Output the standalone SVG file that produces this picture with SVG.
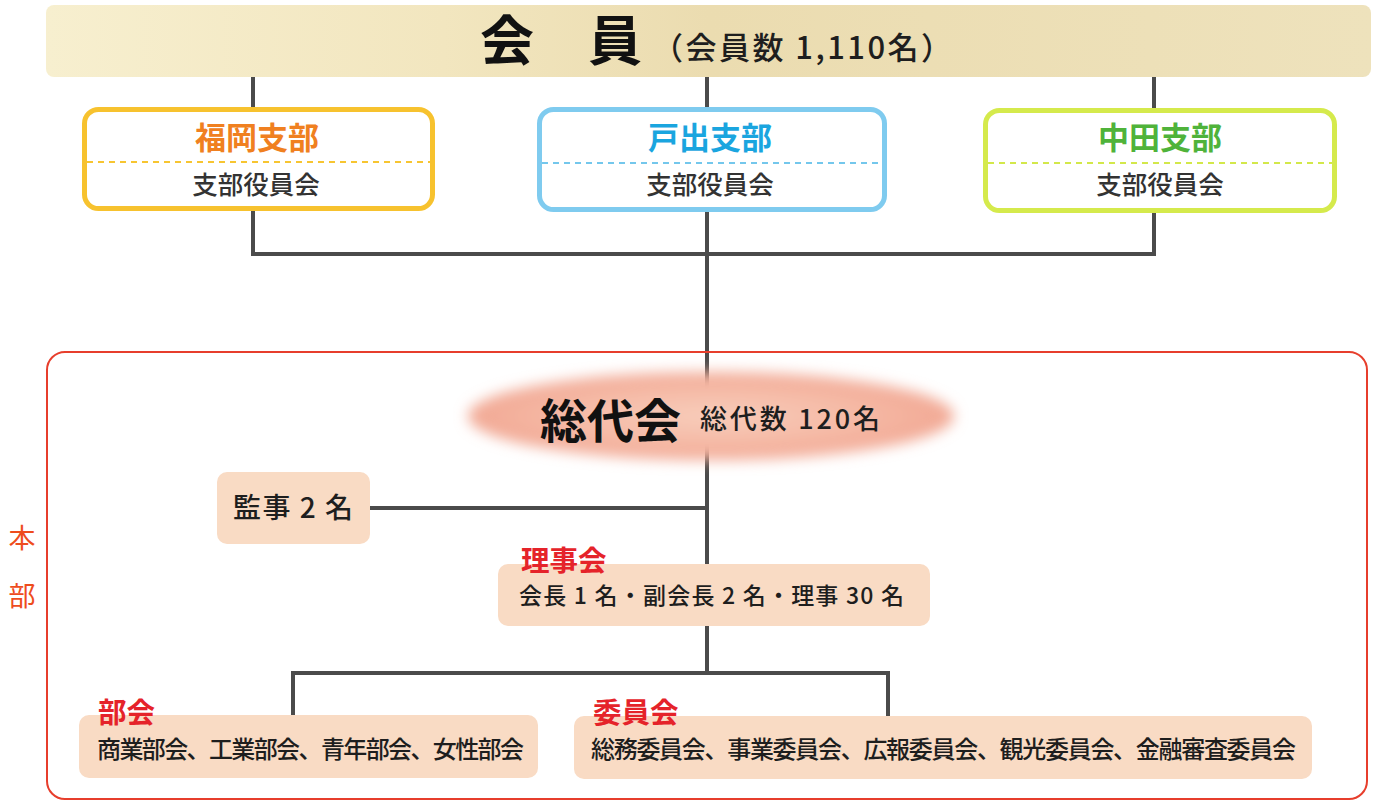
<svg xmlns="http://www.w3.org/2000/svg" width="1374" height="802" viewBox="0 0 1374 802">
<defs>
<style>
text{font-family:"Noto Sans CJK JP","Noto Sans",sans-serif;}
.conn{fill:none;stroke:#4b4b4b;stroke-width:4;}
.branch{fill:#ffffff;stroke-width:5;}
.dash{stroke-width:2;stroke-dasharray:6 5;fill:none;}
.btitle{font-size:31px;font-weight:700;text-anchor:middle;}
.bsub{font-size:25.5px;font-weight:500;fill:#333333;text-anchor:middle;}
.peach{fill:#f9dbc4;}
.red{fill:#e5232a;font-size:28.5px;font-weight:700;}
.dark{fill:#1e1e1e;font-weight:500;}
</style>
<linearGradient id="barGrad" x1="0" y1="0" x2="1" y2="0">
<stop offset="0" stop-color="#f7efcf"/>
<stop offset="0.3" stop-color="#f2e6bf"/>
<stop offset="0.5" stop-color="#ebdcb0"/>
<stop offset="1" stop-color="#eee2bc"/>
</linearGradient>
<radialGradient id="ellGrad" cx="0.5" cy="0.5" r="0.5">
<stop offset="0" stop-color="#f8cdbb"/>
<stop offset="0.6" stop-color="#f5baa6"/>
<stop offset="1" stop-color="#f2a995"/>
</radialGradient>
<filter id="soft" x="-20%" y="-50%" width="140%" height="200%">
<feGaussianBlur stdDeviation="7"/>
</filter>
</defs>
<rect width="1374" height="802" fill="#ffffff"/>

<g id="connectors">
<path class="conn" d="M253 77V110M707 77V110M1154 77V110"/>
<path class="conn" d="M253 211V254H1154V212"/>
<path class="conn" d="M707 211V673"/>
<path class="conn" d="M370 508H707"/>
<path class="conn" d="M293 716V673H888V716"/>
</g>

<g id="members">
<rect x="46" y="5" width="1325" height="72" rx="8" fill="url(#barGrad)"/>
<text x="561" y="61" font-size="54" font-weight="700" text-anchor="middle" fill="#111111">会　員</text>
<text x="652" y="59" font-size="31" font-weight="500" fill="#1e1e1e" textLength="300" lengthAdjust="spacing">（会員数 1,110名）</text>
</g>

<g id="fukuoka">
<rect class="branch" x="84.5" y="109.5" width="348" height="99" rx="14" stroke="#f7c22e"/>
<line class="dash" x1="87" y1="162" x2="430" y2="162" stroke="#f7c531"/>
<text class="btitle" x="257" y="149" fill="#f08020">福岡支部</text>
<text class="bsub" x="256" y="194">支部役員会</text>
</g>

<g id="toide">
<rect class="branch" x="539.5" y="109.5" width="345" height="100" rx="14" stroke="#7fcbef"/>
<line class="dash" x1="542" y1="163" x2="882" y2="163" stroke="#74c7ec"/>
<text class="btitle" x="710" y="149" fill="#1aa5df">戸出支部</text>
<text class="bsub" x="710" y="194">支部役員会</text>
</g>

<g id="nakata">
<rect class="branch" x="985.5" y="110.5" width="349" height="100" rx="14" stroke="#d5ea4c"/>
<line class="dash" x1="988" y1="163" x2="1332" y2="163" stroke="#d3e84a"/>
<text class="btitle" x="1160" y="149" fill="#4fb33a">中田支部</text>
<text class="bsub" x="1160" y="194">支部役員会</text>
</g>

<g id="honbu">
<rect x="47" y="352" width="1320" height="447" rx="18" fill="none" stroke="#e73e2c" stroke-width="2"/>
<text x="22" y="548" font-size="27" text-anchor="middle" fill="#ee4c1d">本</text>
<text x="22" y="606" font-size="27" text-anchor="middle" fill="#ee4c1d">部</text>
</g>

<g id="soudaikai">
<ellipse cx="711" cy="416" rx="243" ry="44" fill="url(#ellGrad)" filter="url(#soft)"/>
<text x="540" y="438" font-size="47" font-weight="700" fill="#111111" textLength="141" lengthAdjust="spacing">総代会</text>
<text x="700" y="429" font-size="27" font-weight="500" fill="#1e1e1e" textLength="180" lengthAdjust="spacing">総代数 120名</text>
</g>

<g id="kanji">
<rect class="peach" x="217" y="472" width="153" height="72" rx="10"/>
<text class="dark" x="233" y="518" font-size="28" textLength="120" lengthAdjust="spacing">監事 2 名</text>
</g>

<g id="rijikai">
<rect class="peach" x="498" y="564" width="432" height="62" rx="10"/>
<text class="red" x="521" y="571">理事会</text>
<text class="dark" x="519" y="604" font-size="23" textLength="385" lengthAdjust="spacing">会長 1 名・副会長 2 名・理事 30 名</text>
</g>

<g id="bukai">
<rect class="peach" x="79" y="715" width="459" height="63" rx="10"/>
<text class="red" x="98" y="723">部会</text>
<text class="dark" x="97" y="758" font-size="24" textLength="427" lengthAdjust="spacing">商業部会、工業部会、青年部会、女性部会</text>
</g>

<g id="iinkai">
<rect class="peach" x="574" y="716" width="738" height="63" rx="10"/>
<text class="red" x="593" y="723">委員会</text>
<text class="dark" x="591" y="758" font-size="24" textLength="705" lengthAdjust="spacing">総務委員会、事業委員会、広報委員会、観光委員会、金融審査委員会</text>
</g>
</svg>
